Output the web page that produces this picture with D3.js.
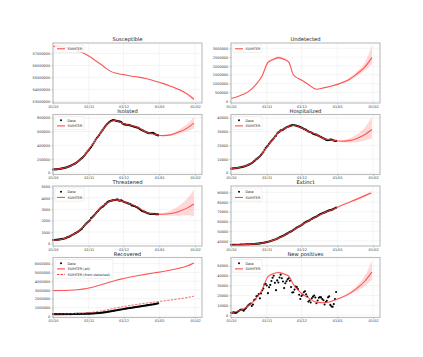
<!DOCTYPE html>
<html lang="en">
<head>
<meta charset="UTF-8"/>
<title>SUIHTER compartments</title>
<script src="https://d3js.org/d3.v7.min.js"></script>
<style>
    html, body { margin: 0; padding: 0; background: #fff; }
    svg { display: block; font-family: "DejaVu Sans", sans-serif; }
</style>
</head>
<body>
<div class="chart"></div>
<script>
// ---- data ----
var dataStart = "2020-10-01";   // daily observations start here
var xRange = ["2020-10-01", "2021-02-07"];
var xTickDates = ["2020-10-01", "2020-11-01", "2020-12-01", "2021-01-01", "2021-02-01"];

// model output sampled at these dates
var modelDates = ["2020-10-01","2020-10-08","2020-10-15","2020-10-22","2020-10-28","2020-11-02","2020-11-06",
    "2020-11-11","2020-11-16","2020-11-20","2020-11-24","2020-12-01","2020-12-07","2020-12-14","2020-12-21",
    "2020-12-28","2021-01-04","2021-01-11","2021-01-18","2021-01-25","2021-01-31"];

var susModel = [57590000,57550000,57450000,57250000,57000000,56720000,56450000,56120000,55750000,55500000,55360000,
    55230000,55120000,55020000,54880000,54700000,54500000,54250000,53980000,53620000,53170000];
var susLow = [57590000,57550000,57450000,57250000,57000000,56720000,56450000,56110000,55740000,55490000,55350000,
    55220000,55110000,55010000,54860000,54680000,54470000,54210000,53920000,53530000,53040000];
var susHigh = [57590000,57550000,57450000,57250000,57000000,56720000,56450000,56130000,55760000,55510000,55370000,
    55240000,55130000,55030000,54900000,54720000,54530000,54290000,54040000,53710000,53300000];

var undModel = [150000,300000,500000,900000,1450000,2200000,2350000,2470000,2380000,2220000,1500000,
    1200000,950000,680000,770000,880000,1020000,1220000,1550000,1950000,2470000];
var undLow = [145000,290000,485000,875000,1410000,2140000,2290000,2400000,2310000,2160000,1460000,
    1170000,925000,660000,745000,845000,975000,1150000,1430000,1740000,2130000];
var undHigh = [155000,310000,515000,925000,1490000,2260000,2410000,2550000,2450000,2280000,1540000,
    1230000,975000,700000,795000,915000,1070000,1300000,1700000,2200000,3170000];

var isoModel = [50000,60000,92000,157000,247000,365000,455000,575000,691000,745000,760000,
    712000,690000,655000,590000,560000,540000,552000,592000,650000,722000];
var isoLow = [48000,58000,90000,154000,243000,360000,449000,568000,683000,737000,752000,
    704000,682000,647000,582000,552000,532000,540000,567000,605000,642000];
var isoHigh = [52000,62000,94000,160000,251000,370000,461000,582000,699000,753000,768000,
    720000,698000,663000,598000,568000,548000,567000,627000,710000,812000];

var hosModel = [3000,3800,5500,9100,14000,19800,23800,29400,32000,33600,34400,
    32800,30100,27800,24700,23800,23000,23400,25000,27800,31500];
var hosLow = [2950,3750,5420,9000,13850,19600,23550,29100,31700,33300,34100,
    32500,29800,27500,24450,23500,22400,22000,22300,23500,24700];
var hosHigh = [3050,3850,5580,9200,14150,20000,24050,29700,32300,33900,34700,
    33100,30400,28100,24950,24100,23700,25000,28000,33000,40500];

var thrModel = [280,340,590,990,1540,2020,2470,3110,3490,3750,3830,
    3660,3460,3140,2690,2580,2560,2620,2800,3100,3470];
var thrLow = [270,330,575,970,1510,1990,2430,3060,3440,3700,3780,
    3610,3410,3100,2650,2540,2480,2420,2430,2440,2410];
var thrHigh = [290,350,605,1010,1570,2050,2510,3160,3540,3800,3880,
    3710,3510,3180,2730,2620,2660,2880,3300,3900,4760];

var extModel = [35900,36100,36450,37000,37900,39100,40600,42900,45700,48500,51300,
    56400,60600,65000,69200,72400,76200,79600,83000,86600,89800];
var extLow = [35900,36100,36450,37000,37900,39100,40600,42900,45700,48500,51300,
    56400,60600,65000,69200,72300,75900,79100,82200,85500,88300];
var extHigh = [35900,36100,36450,37000,37900,39100,40600,42900,45700,48500,51300,
    56400,60600,65000,69200,72500,76500,80100,83800,87700,91300];

var recAllModel = [2920000,2930000,2960000,3020000,3120000,3250000,3370000,3550000,3760000,3930000,4080000,
    4300000,4470000,4640000,4800000,4950000,5100000,5270000,5470000,5730000,6080000];
var recAllLow = [2910000,2920000,2950000,3010000,3110000,3240000,3360000,3540000,3750000,3920000,4070000,
    4290000,4460000,4630000,4790000,4940000,5085000,5250000,5440000,5690000,6020000];
var recAllHigh = [2930000,2940000,2970000,3030000,3130000,3260000,3380000,3560000,3770000,3940000,4090000,
    4310000,4480000,4650000,4810000,4960000,5115000,5290000,5500000,5770000,6140000];
var recDetModel = [250000,260000,280000,310000,350000,420000,480000,580000,700000,820000,930000,
    1100000,1230000,1370000,1500000,1620000,1730000,1850000,1980000,2130000,2280000];

var newModel = [2500,4500,8500,16000,26000,39000,41500,43000,41500,39500,31000,
    22000,17500,13000,12500,14500,17500,21500,27000,34500,43400];
var newLow = [2400,4350,8250,15600,25400,38200,40600,42000,40500,38600,30300,
    21500,17100,12700,12200,14100,16800,20200,24500,29500,35400];
var newHigh = [2600,4650,8750,16400,26600,39800,42400,44000,42500,40400,31700,
    22500,17900,13300,12800,14900,18200,22800,29800,40000,55000];

// daily observations, 1 Oct - 31 Dec 2020
var isoData = [48000,49000,50000,51000,53000,55000,57000,60000,63000,67000,
    71000,75000,80000,86000,92000,100000,108000,117000,125000,133000,
    145000,157000,170000,184000,199000,213000,229000,247000,267000,290000,312000,
    333000,353000,374000,399000,426000,455000,484000,508000,527000,547000,
    575000,598000,623000,647000,671000,691000,708000,726000,741000,752000,
    760000,767000,764000,760000,756000,751000,747000,743000,739000,720000,
    709000,703000,700000,698000,696000,692000,689000,681000,677000,672000,
    667000,662000,659000,652000,640000,630000,622000,612000,604000,597000,
    588000,582000,577000,575000,577000,580000,578000,566000,556000,550000,544000];
var hosData = [3050,3100,3200,3300,3400,3500,3600,3800,4000,4100,
    4300,4500,4800,5100,5500,5800,6200,6600,7100,7700,
    8500,9100,10000,10500,11300,12000,13000,14000,15100,16600,18000,
    19000,19800,21100,22100,23300,24100,25100,26400,27000,28600,
    29400,29900,30900,30900,31400,32000,32500,33100,33500,33600,
    34100,34300,34700,34600,34600,34400,34100,33800,33600,33200,
    32800,32500,31800,31600,31200,30600,30100,29700,29500,29100,
    28500,28200,27800,27800,27300,26900,26400,26000,25500,25100,
    24700,24200,23900,23700,23900,24100,24200,23800,23500,23200,23200];
var thrData = [280,291,297,303,319,323,337,358,387,390,
    420,452,514,539,586,638,705,750,797,870,
    926,992,1049,1128,1208,1284,1411,1536,1651,1746,1843,
    1939,2022,2225,2292,2391,2515,2634,2749,2849,2971,
    3081,3170,3230,3306,3422,3492,3612,3670,3712,3748,
    3758,3801,3810,3816,3848,3846,3762,3753,3782,3744,
    3663,3616,3597,3567,3517,3487,3454,3345,3320,3291,
    3265,3199,3158,3095,3003,2926,2855,2819,2784,2743,
    2691,2649,2624,2589,2584,2590,2580,2589,2565,2555,2555];
var extData = [35890,35920,35970,35990,36030,36060,36080,36110,36140,36170,
    36200,36250,36290,36370,36430,36470,36540,36620,36670,36730,
    36830,36970,37060,37210,37340,37480,37700,37910,38120,38320,38620,
    38830,39060,39410,39760,40190,40640,41060,41390,41750,42330,
    42950,43590,44140,44680,45230,45730,46460,47220,47870,48570,
    49260,49820,50450,51310,52030,52850,53680,54360,54900,55580,
    56360,57050,58040,58850,59510,60080,60610,61240,62030,62630,
    63390,64040,64520,65010,65860,66540,67220,67890,68450,68800,
    69210,69840,70390,70900,71360,71620,71930,72370,73030,73600,74160];
var recData = [228000,229000,230000,231000,232000,232000,233000,234000,235000,236000,
    238000,239000,240000,242000,243000,245000,246000,248000,250000,253000,
    255000,258000,260000,263000,265000,267000,272000,275000,279000,282000,286000,
    289000,292000,298000,305000,312000,322000,334000,345000,357000,363000,
    377000,394000,410000,428000,446000,467000,489000,510000,533000,557000,
    580000,604000,628000,651000,675000,698000,721000,743000,765000,790000,
    819000,841000,863000,886000,907000,927000,946000,964000,983000,1003000,
    1024000,1046000,1067000,1087000,1108000,1129000,1150000,1171000,1192000,1213000,
    1233000,1253000,1273000,1293000,1313000,1333000,1353000,1378000,1405000,1435000,1463000];
var newData = [2548,2499,2844,2578,2257,2677,3678,4458,5372,5724,
    5456,4619,5901,7332,8804,10010,10925,11705,9338,10874,
    15199,16079,19143,19644,21273,17012,21994,24991,26831,31084,31758,
    29907,22253,28244,30550,34505,37809,39811,32616,25271,35098,
    32961,37978,40902,37255,33979,27354,32191,34283,36176,37242,
    34767,28337,22930,23232,25853,29003,28352,26323,20648,16377,
    19350,20709,23225,24099,21052,18887,13720,14842,12756,16999,
    18727,19903,17938,12030,14844,17572,18236,17992,16308,15104,
    10872,13318,14522,18040,19037,10407,8913,8585,11212,16202,23477];

// y-axis ticks per panel
var susTicks = [53000000,54000000,55000000,56000000,57000000];
var undTicks = [0,500000,1000000,1500000,2000000,2500000,3000000];
var isoTicks = [0,200000,400000,600000,800000];
var hosTicks = [0,10000,20000,30000,40000];
var thrTicks = [0,1000,2000,3000,4000,5000];
var extTicks = [40000,50000,60000,70000,80000,90000];
var recTicks = [0,1000000,2000000,3000000,4000000,5000000,6000000];
var newTicks = [0,10000,20000,30000,40000,50000];

// ---- layout ----
var W = 423, H = 357;
var colX = [53, 231];
var rowY = [43, 114.5, 186, 257.5];
var pw = 149, ph = 60;
var red = "#ff3b3b";

var parse = d3.timeParse("%Y-%m-%d");
var mDates = modelDates.map(parse);
var start = parse(dataStart);

var panels = [
    {title: "Susceptible", c: 0, r: 0, dom: [52860000, 57870000], ticks: susTicks,
     model: susModel, low: susLow, high: susHigh, legend: [["line", "SUIHTER"]]},
    {title: "Undetected", c: 1, r: 0, dom: [-100000, 3300000], ticks: undTicks,
     model: undModel, low: undLow, high: undHigh, legend: [["line", "SUIHTER"]]},
    {title: "Isolated", c: 0, r: 1, dom: [-25000, 848000], ticks: isoTicks, data: isoData,
     model: isoModel, low: isoLow, high: isoHigh, legend: [["dot", "Data"], ["line", "SUIHTER"]]},
    {title: "Hospitalized", c: 1, r: 1, dom: [-1200, 42400], ticks: hosTicks, data: hosData,
     model: hosModel, low: hosLow, high: hosHigh, legend: [["dot", "Data"], ["line", "SUIHTER"]]},
    {title: "Threatened", c: 0, r: 2, dom: [-240, 5050], ticks: thrTicks, data: thrData,
     model: thrModel, low: thrLow, high: thrHigh, legend: [["dot", "Data"], ["line", "SUIHTER"]]},
    {title: "Extinct", c: 1, r: 2, dom: [34800, 96500], ticks: extTicks, data: extData,
     model: extModel, low: extLow, high: extHigh, legend: [["dot", "Data"], ["line", "SUIHTER"]]},
    {title: "Recovered", c: 0, r: 3, dom: [-150000, 6700000], ticks: recTicks, data: recData,
     model: recAllModel, low: recAllLow, high: recAllHigh, model2: recDetModel,
     legend: [["dot", "Data"], ["line", "SUIHTER (all)"], ["dash", "SUIHTER (from detected)"]]},
    {title: "New positives", c: 1, r: 3, dom: [-2300, 58200], ticks: newTicks, data: newData, sparse: true,
     model: newModel, low: newLow, high: newHigh, legend: [["dot", "Data"], ["line", "SUIHTER"]]}
];

var svg = d3.select(".chart").append("svg")
    .attr("width", W).attr("height", H);

var x = d3.scaleTime().domain(xRange.map(parse)).range([0, pw]);
var fmt = d3.timeFormat("%d/%m");

panels.forEach(function(p) {
    var g = svg.append("g")
        .attr("transform", "translate(" + colX[p.c] + "," + rowY[p.r] + ")");
    var y = d3.scaleLinear().domain(p.dom).range([ph, 0]);

    // grid
    g.selectAll(".vg").data(xTickDates.map(parse)).enter().append("line")
        .attr("x1", function(d) { return x(d); }).attr("x2", function(d) { return x(d); })
        .attr("y1", 0).attr("y2", ph)
        .attr("stroke", "#e8e8e8").attr("stroke-width", 0.5);
    g.selectAll(".hg").data(p.ticks).enter().append("line")
        .attr("x1", 0).attr("x2", pw)
        .attr("y1", function(d) { return y(d); }).attr("y2", function(d) { return y(d); })
        .attr("stroke", "#e8e8e8").attr("stroke-width", 0.5);

    // uncertainty band
    var area = d3.area()
        .x(function(d, i) { return x(mDates[i]); })
        .y0(function(d, i) { return y(p.low[i]); })
        .y1(function(d, i) { return y(p.high[i]); })
        .curve(d3.curveMonotoneX);
    g.append("path").datum(p.model).attr("d", area)
        .attr("fill", "#ff0000").attr("fill-opacity", 0.15);

    // observations
    if (p.data) {
        g.selectAll(".pt").data(p.data).enter().append("circle")
            .attr("cx", function(d, i) { return x(d3.timeDay.offset(start, i)); })
            .attr("cy", function(d) { return y(d); })
            .attr("r", p.sparse ? 1.05 : 1.1)
            .attr("fill", "#000");
    }

    var line = d3.line()
        .x(function(d, i) { return x(mDates[i]); })
        .y(function(d) { return y(d); })
        .curve(d3.curveMonotoneX);
    g.append("path").datum(p.model).attr("d", line)
        .attr("fill", "none").attr("stroke", red)
        .attr("stroke-width", 1.1).attr("stroke-opacity", 0.85);
    if (p.model2) {
        g.append("path").datum(p.model2).attr("d", line)
            .attr("fill", "none").attr("stroke", red)
            .attr("stroke-width", 0.9).attr("stroke-opacity", 0.85)
            .attr("stroke-dasharray", "2.4,1.2");
    }

    // frame
    g.append("rect").attr("width", pw).attr("height", ph)
        .attr("fill", "none").attr("stroke", "#bcbcbc").attr("stroke-width", 1.1);

    // axes
    var ya = g.append("g").call(d3.axisLeft(y).tickValues(p.ticks)
        .tickSize(1.5).tickPadding(1.2).tickFormat(d3.format("d")));
    var xa = g.append("g").attr("transform", "translate(0," + ph + ")")
        .call(d3.axisBottom(x).tickValues(xTickDates.map(parse))
        .tickSize(1.5).tickPadding(1).tickFormat(fmt));
    [ya, xa].forEach(function(a) {
        a.select(".domain").remove();
        a.selectAll("line").attr("stroke", "#999").attr("stroke-width", 0.5);
        a.selectAll("text").attr("font-size", 3.5).attr("fill", "#333")
            .attr("font-family", "DejaVu Sans");
    });

    g.append("text").attr("x", pw / 2).attr("y", -2)
        .attr("text-anchor", "middle").attr("font-size", 5.2).attr("fill", "#1a1a1a")
        .text(p.title);

    // legend
    var lw = p.legend.length > 2 ? 58 : 29;
    var lg = g.append("g").attr("transform", "translate(2,2)");
    lg.append("rect").attr("width", lw).attr("height", 2 + p.legend.length * 5.6)
        .attr("rx", 1).attr("fill", "#fff").attr("fill-opacity", 0.85)
        .attr("stroke", "#d8d8d8").attr("stroke-width", 0.4);
    p.legend.forEach(function(it, i) {
        var cy = 3.8 + i * 5.6;
        if (it[0] === "dot") {
            lg.append("circle").attr("cx", 6).attr("cy", cy).attr("r", 1).attr("fill", "#000");
        } else {
            lg.append("line").attr("x1", 2).attr("x2", 10).attr("y1", cy).attr("y2", cy)
                .attr("stroke", red).attr("stroke-width", 1)
                .attr("stroke-dasharray", it[0] === "dash" ? "2.4,1.2" : null);
        }
        lg.append("text").attr("x", 12.5).attr("y", cy + 1.2)
            .attr("font-size", 3.4).attr("fill", "#222").text(it[1]);
    });
});
</script>
</body>
</html>
